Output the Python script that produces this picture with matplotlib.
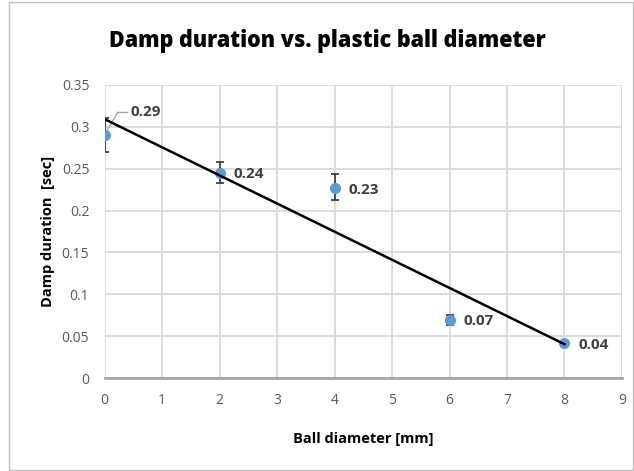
import numpy as np
import matplotlib.pyplot as plt
from matplotlib.patches import Rectangle

# data
diameter = [0, 2, 4, 6, 8]
duration = [0.29, 0.245, 0.227, 0.07, 0.042]
err_low = [0.02, 0.012, 0.014, 0.006, 0.0]
err_high = [0.02, 0.013, 0.017, 0.005, 0.0]
labels = ['0.29', '0.24', '0.23', '0.07', '0.04']

plt.rcParams['font.family'] = ['Open Sans', 'DejaVu Sans']

fig = plt.figure(figsize=(6.34, 4.71), dpi=100)
ax = fig.add_axes([0.165, 0.197, 0.816, 0.623])

# outer chart frame
fig.patches.append(Rectangle((9 / 634, 0.002), 1 - 10 / 634, 0.994,
                             transform=fig.transFigure, fill=False,
                             edgecolor='#bfbfbf', linewidth=1))

ax.errorbar(diameter, duration, yerr=[err_low, err_high], fmt='o',
            color='#5b9bd5', markersize=7, ecolor='#404040', elinewidth=1.3,
            capsize=3, capthick=1.3, zorder=3)

# linear trendline
k, b = np.polyfit(diameter, duration, 1)
xs = np.array([diameter[0], diameter[-1]])
ax.plot(xs, k * xs + b, color='black', linewidth=1.8, zorder=4)

# data labels
for i, (x, y, t) in enumerate(zip(diameter, duration, labels)):
    if i == 0:
        ax.annotate(t, xy=(x, y), xytext=(x + 0.45, y + 0.027),
                    fontsize=11, fontweight='bold', color='#404040',
                    va='center',
                    arrowprops=dict(arrowstyle='-', color='#a6a6a6',
                                    lw=1, shrinkA=0, shrinkB=4,
                                    connectionstyle='angle,angleA=0,angleB=60,rad=0'))
    else:
        ax.text(x + 0.25, y - 0.002, t, fontsize=11, fontweight='bold',
                color='#404040', va='center')

ax.set_xlim(0, 9)
ax.set_ylim(0, 0.35)
ax.set_xticks(range(0, 10))
ax.set_yticks([0, 0.05, 0.1, 0.15, 0.2, 0.25, 0.3, 0.35])
ax.set_yticklabels(['0', '0.05', '0.1', '0.15', '0.2', '0.25', '0.3', '0.35'])
ax.tick_params(length=0, labelsize=10, colors='#595959', pad=11)
ax.grid(True, color='#d9d9d9', linewidth=1.3)
ax.set_axisbelow(True)
for side in ['top', 'right', 'left']:
    ax.spines[side].set_visible(False)
ax.spines['bottom'].set_color('#a6a6a6')
ax.spines['bottom'].set_linewidth(2)

ax.set_xlabel('Ball diameter [mm]', fontsize=10.5, fontweight='bold', labelpad=17)
ax.set_ylabel('Damp duration  [sec]', fontsize=10.5, fontweight='bold', labelpad=5)
fig.text(0.516, 0.912, 'Damp duration vs. plastic ball diameter',
         fontsize=15.5, fontweight='heavy', ha='center', va='center')

fig.savefig('out.png', dpi=100)
